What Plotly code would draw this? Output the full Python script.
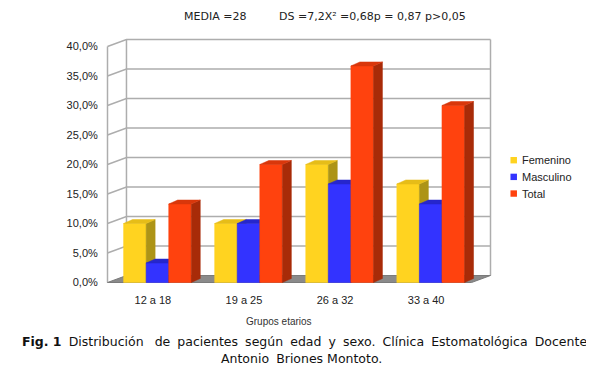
import plotly.graph_objects as go

# ---------------- data ----------------
categories = ["12 a 18", "19 a 25", "26 a 32", "33 a 40"]
series_names = ["Femenino", "Masculino", "Total"]
femenino = [10.0, 10.0, 20.0, 16.7]
masculino = [3.3, 10.0, 16.7, 13.3]
total = [13.3, 20.0, 36.7, 30.0]
y_tickvals = [0, 5, 10, 15, 20, 25, 30, 35, 40]
y_ticklabels = ["0,0%", "5,0%", "10,0%", "15,0%", "20,0%", "25,0%", "30,0%", "35,0%", "40,0%"]
x_axis_title = "Grupos etarios"
stats_left = "MEDIA =28"
stats_right = "DS =7,2X² =0,68p = 0,87 p>0,05"
_g = " \u2005"  # slightly widened (justified) word gap
caption_1 = ("<b>Fig.\u00a01</b>" + _g + "Distribución\u00a0\u2005 de" + _g + "pacientes" + _g + "según" + _g
             + "edad" + _g + "y" + _g + "sexo." + _g + "Clínica" + _g + "Estomatológica" + _g + "Docente")
caption_2 = "Antonio\u00a0\u2005Briones Montoto."

series_values = [femenino, masculino, total]
front_colors = ["#ffd320", "#3333ff", "#ff420e"]
side_colors = ["#ad9416", "#1c1ca0", "#a82b08"]
top_colors = ["#e6bd18", "#2626cc", "#d9370b"]

# ---------------- geometry (reference pixels -> data units) ----------------
OFF = 8                      # page body margin of the html page
W, H = 594 - OFF, 371 - OFF
PX_X = 91.2          # px per category
PX_Y = 5.91          # px per percent
X0_PX = 157.5        # pixel of category 0 centre
Y0_PX = 283.0        # pixel of 0 %
bar_w = 22.6 / PX_X
side_dx = 9.0 / PX_X
side_dy = 4.0 / PX_Y
wall_dx = 19.0 / PX_X
wall_dy = 7.0 / PX_Y
x_front_left = (107.5 - X0_PX) / PX_X
x_front_right = (472.0 - X0_PX) / PX_X
x_back_left = x_front_left + wall_dx
x_back_right = x_front_right + wall_dx
y_top = max(y_tickvals)

pad_x = 1.5 / PX_X
pad_y = 1.5 / PX_Y
x_range = [x_front_left - pad_x, x_back_right + pad_x]
y_range = [-pad_y, y_top + wall_dy + pad_y]
m_l = X0_PX - OFF + x_range[0] * PX_X
m_r = W - (X0_PX - OFF + x_range[1] * PX_X)
m_b = H - (Y0_PX - OFF - y_range[0] * PX_Y)
m_t = Y0_PX - OFF - y_range[1] * PX_Y
plot_w = W - m_l - m_r
plot_h = H - m_t - m_b


def px_x(px):
    return (px - OFF - m_l) / plot_w


def px_y(py):
    return 1 - (py - OFF - m_t) / plot_h


fig = go.Figure()

# ---------------- walls and grid ----------------
gx, gy = [], []
for v in y_tickvals:
    if v > 0:
        gx += [x_front_left, x_back_left, x_back_right, None]
        gy += [v, v + wall_dy, v + wall_dy, None]
gx += [x_front_left, x_front_left, None, x_back_left, x_back_left, None, x_back_right, x_back_right, None]
gy += [0, y_top, None, wall_dy, y_top + wall_dy, None, wall_dy, y_top + wall_dy, None]
fig.add_trace(go.Scatter(x=gx, y=gy, mode="lines", line=dict(color="#adadad", width=1.5),
                         hoverinfo="skip", showlegend=False))

# floor
fig.add_trace(go.Scatter(
    x=[x_front_left, x_front_right, x_back_right, x_back_left, x_front_left],
    y=[0, 0, wall_dy, wall_dy, 0],
    mode="lines", fill="toself", fillcolor="#8a8a8a", line=dict(color="#7a7a7a", width=1),
    hoverinfo="skip", showlegend=False))

# ---------------- pseudo-3D bars ----------------
for s, (name, vals) in enumerate(zip(series_names, series_values)):
    fx, fy, sx, sy, tx, ty = [], [], [], [], [], []
    for i, v in enumerate(vals):
        xl = i + (s - 1.5) * bar_w
        xr = xl + bar_w
        fx += [xl, xr, xr, xl, xl, None]
        fy += [0, 0, v, v, 0, None]
        sx += [xr, xr + side_dx, xr + side_dx, xr, xr, None]
        sy += [0, side_dy, v + side_dy, v, 0, None]
        tx += [xl, xr, xr + side_dx, xl + side_dx, xl, None]
        ty += [v, v, v + side_dy, v + side_dy, v, None]
    for xs, ys, col in ((fx, fy, front_colors[s]), (sx, sy, side_colors[s]), (tx, ty, top_colors[s])):
        fig.add_trace(go.Scatter(x=xs, y=ys, mode="lines", fill="toself", fillcolor=col,
                                 line=dict(color=col, width=0.5), name=name,
                                 hoverinfo="skip", showlegend=False))

# ---------------- manual legend ----------------
shapes = []
annotations = []
leg_y0 = 160.5
leg_step = 16.7
for s, name in enumerate(series_names):
    cy = leg_y0 + s * leg_step
    shapes.append(dict(type="rect", xref="paper", yref="paper",
                       x0=px_x(511), x1=px_x(517.5), y0=px_y(cy + 3.2), y1=px_y(cy - 3.2),
                       fillcolor=front_colors[s], line=dict(width=0)))
    annotations.append(dict(text=name, xref="paper", yref="paper", x=px_x(521), y=px_y(cy),
                            xanchor="left", yanchor="middle", showarrow=False,
                            font=dict(family="Liberation Sans", size=11, color="#222")))

# axis title
annotations.append(dict(text=x_axis_title, xref="paper", yref="paper", x=px_x(279), y=px_y(322),
                        xanchor="center", yanchor="middle", showarrow=False,
                        font=dict(family="Liberation Sans", size=10, color="#333")))
# stats line
annotations.append(dict(text=stats_left, xref="paper", yref="paper", x=px_x(182), y=px_y(17),
                        xanchor="left", yanchor="middle", showarrow=False,
                        font=dict(family="DejaVu Sans", size=11, color="#222")))
annotations.append(dict(text=stats_right, xref="paper", yref="paper", x=px_x(277), y=px_y(17),
                        xanchor="left", yanchor="middle", showarrow=False,
                        font=dict(family="DejaVu Sans", size=11, color="#222")))
# caption
annotations.append(dict(text=caption_1, xref="paper", yref="paper", x=px_x(304.7), y=px_y(342),
                        xanchor="center", yanchor="middle", showarrow=False,
                        font=dict(family="DejaVu Sans", size=12.5, color="#111")))
annotations.append(dict(text=caption_2, xref="paper", yref="paper", x=px_x(301.5), y=px_y(359),
                        xanchor="center", yanchor="middle", showarrow=False,
                        font=dict(family="DejaVu Sans", size=12.5, color="#111")))

fig.update_layout(
    width=W, height=H,
    margin=dict(l=m_l, r=m_r, t=m_t, b=m_b, autoexpand=False),
    paper_bgcolor="white", plot_bgcolor="white",
    showlegend=False,
    shapes=shapes, annotations=annotations,
    xaxis=dict(range=x_range, tickvals=[i - 0.05 for i in range(len(categories))], ticktext=categories,
               showgrid=False, zeroline=False, showline=False,
               ticks="outside", ticklen=6, tickcolor="rgba(0,0,0,0)",
               tickfont=dict(family="Liberation Sans", size=11, color="#222"), fixedrange=True),
    yaxis=dict(range=y_range, tickvals=y_tickvals, ticktext=y_ticklabels,
               showgrid=False, zeroline=False, showline=False,
               ticks="outside", ticklen=5, tickcolor="rgba(0,0,0,0)",
               tickfont=dict(family="Liberation Sans", size=11, color="#222"), fixedrange=True),
)

fig.write_html("out.html")
